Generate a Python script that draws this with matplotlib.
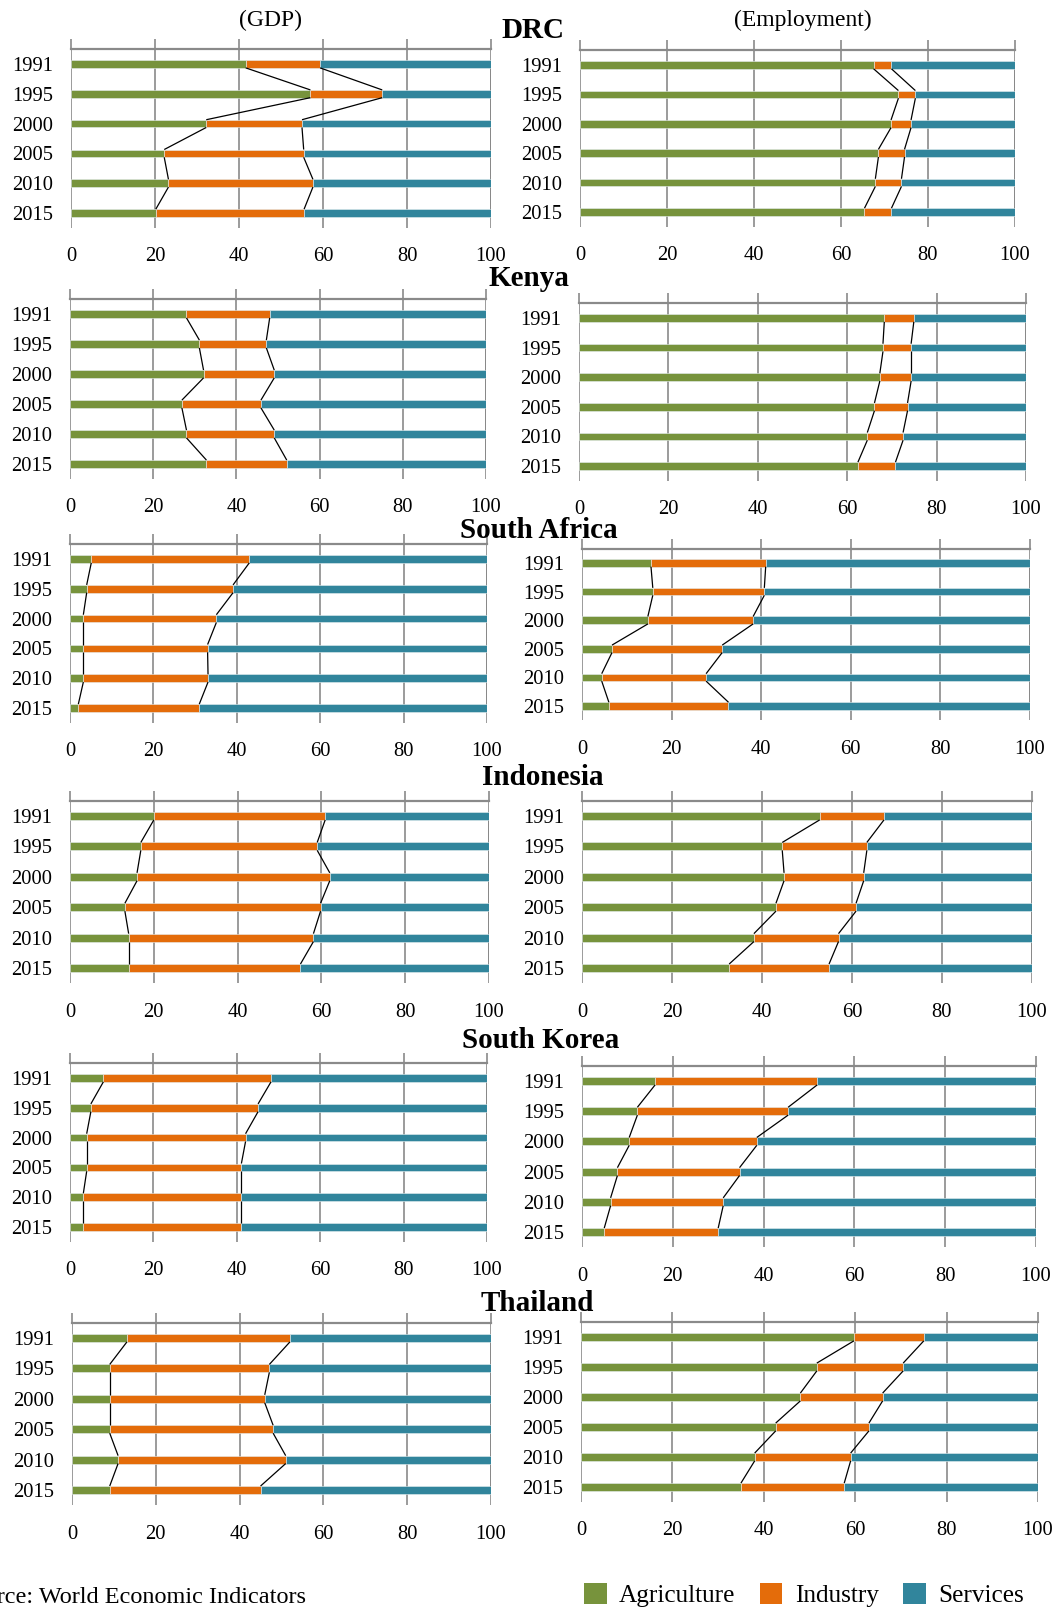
import matplotlib.pyplot as plt
from matplotlib.patches import Patch

plt.rcParams['font.family'] = ['Liberation Serif', 'DejaVu Serif']

# Sector shares (%) for each country, GDP and employment
years = ['1991', '1995', '2000', '2005', '2010', '2015']
sectors = ['Agriculture', 'Industry', 'Services']
sector_colors = ['#77933C', '#E46C0A', '#31859C']
countries = ['DRC', 'Kenya', 'South Africa', 'Indonesia', 'South Korea', 'Thailand']

drc_gdp_agri = [41.6, 57.0, 32.2, 22.2, 23.2, 20.2]
drc_gdp_ind = [17.7, 17.1, 22.8, 33.2, 34.4, 35.3]
drc_gdp_serv = [40.7, 25.9, 45.0, 44.6, 42.4, 44.5]
drc_emp_agri = [67.5, 73.2, 71.5, 68.6, 67.9, 65.4]
drc_emp_ind = [4.1, 3.9, 4.6, 6.0, 6.0, 6.2]
drc_emp_serv = [28.4, 22.9, 23.9, 25.4, 26.1, 28.4]

kenya_gdp_agri = [28.0, 31.1, 32.1, 26.9, 28.0, 32.8]
kenya_gdp_ind = [20.0, 16.1, 17.0, 19.0, 21.1, 19.3]
kenya_gdp_serv = [52.0, 52.8, 50.9, 54.1, 50.9, 47.9]
kenya_emp_agri = [68.3, 68.0, 67.3, 66.1, 64.5, 62.4]
kenya_emp_ind = [6.6, 6.3, 7.0, 7.4, 8.0, 8.4]
kenya_emp_serv = [25.1, 25.7, 25.7, 26.5, 27.5, 29.2]

sa_gdp_agri = [5.1, 4.0, 3.2, 3.2, 3.2, 2.0]
sa_gdp_ind = [37.9, 35.1, 31.9, 29.8, 29.9, 29.0]
sa_gdp_serv = [57.0, 60.9, 64.9, 67.0, 66.9, 69.0]
sa_emp_agri = [15.4, 15.8, 14.7, 6.7, 4.4, 6.0]
sa_emp_ind = [25.6, 24.9, 23.5, 24.6, 23.3, 26.7]
sa_emp_serv = [59.0, 59.3, 61.8, 68.7, 72.3, 67.3]

indo_gdp_agri = [20.0, 16.9, 16.0, 13.1, 14.0, 14.0]
indo_gdp_ind = [40.9, 42.1, 46.0, 46.7, 44.1, 41.0]
indo_gdp_serv = [39.1, 41.0, 38.0, 40.2, 41.9, 45.0]
indo_emp_agri = [52.8, 44.5, 44.9, 43.1, 38.2, 32.7]
indo_emp_ind = [14.3, 18.8, 17.7, 17.8, 18.8, 22.2]
indo_emp_serv = [32.9, 36.7, 37.4, 39.1, 43.0, 45.1]

korea_gdp_agri = [8.0, 5.0, 4.0, 4.0, 3.2, 3.2]
korea_gdp_ind = [40.2, 40.1, 38.1, 37.1, 37.9, 37.9]
korea_gdp_serv = [51.8, 54.9, 57.9, 58.9, 58.9, 58.9]
korea_emp_agri = [16.1, 12.2, 10.4, 7.8, 6.3, 4.9]
korea_emp_ind = [35.7, 33.2, 28.1, 26.9, 24.8, 25.1]
korea_emp_serv = [48.2, 54.6, 61.5, 65.3, 68.9, 70.0]

thai_gdp_agri = [13.1, 9.0, 9.0, 9.0, 11.0, 9.0]
thai_gdp_ind = [38.9, 38.1, 37.0, 39.0, 40.0, 36.0]
thai_gdp_serv = [48.0, 52.9, 54.0, 52.0, 49.0, 55.0]
thai_emp_agri = [59.7, 51.6, 48.0, 42.6, 38.0, 35.0]
thai_emp_ind = [15.3, 18.9, 18.0, 20.4, 21.0, 22.6]
thai_emp_serv = [25.0, 29.5, 34.0, 37.0, 41.0, 42.4]

gdp_data = [
    (drc_gdp_agri, drc_gdp_ind, drc_gdp_serv),
    (kenya_gdp_agri, kenya_gdp_ind, kenya_gdp_serv),
    (sa_gdp_agri, sa_gdp_ind, sa_gdp_serv),
    (indo_gdp_agri, indo_gdp_ind, indo_gdp_serv),
    (korea_gdp_agri, korea_gdp_ind, korea_gdp_serv),
    (thai_gdp_agri, thai_gdp_ind, thai_gdp_serv),
]
emp_data = [
    (drc_emp_agri, drc_emp_ind, drc_emp_serv),
    (kenya_emp_agri, kenya_emp_ind, kenya_emp_serv),
    (sa_emp_agri, sa_emp_ind, sa_emp_serv),
    (indo_emp_agri, indo_emp_ind, indo_emp_serv),
    (korea_emp_agri, korea_emp_ind, korea_emp_serv),
    (thai_emp_agri, thai_emp_ind, thai_emp_serv),
]

W, H = 1061, 1610
GRID = '#8a8a8a'
BAR_H = 0.26

# pixel layout: (x at 0, x at 100, y of first bar, y of last bar)
left_boxes = [(71, 491, 64, 213), (70, 486, 314, 464), (70, 487, 559, 708),
              (70, 489, 816, 968), (70, 487, 1078, 1227), (72, 491, 1338, 1490)]
right_boxes = [(580, 1015, 65, 212), (579, 1026, 318, 466), (582, 1030, 563, 706),
               (582, 1032, 816, 968), (582, 1036, 1081, 1232), (581, 1038, 1337, 1487)]
title_pos = [(533, 30), (529, 278), (539, 531), (543, 777), (541, 1041), (537, 1303)]


def make_axes(fig, box):
    x0, x1, yf, yl = box
    step = (yl - yf) / 5.0
    top = yf - step / 2
    bottom = yl + step / 2
    return fig.add_axes([x0 / W, 1 - bottom / H, (x1 - x0) / W, (bottom - top) / H])


def draw_panel(ax, agri, ind, serv):
    pos = list(range(len(years)))
    left = [0.0] * len(years)
    for vals, color in zip((agri, ind, serv), sector_colors):
        ax.barh(pos, vals, left=left, height=BAR_H, color=color,
                edgecolor='#e6eef0', linewidth=0.4, zorder=2)
        left = [l + v for l, v in zip(left, vals)]

    # series lines joining the segment boundaries of neighbouring bars
    cum1 = list(agri)
    cum2 = [a + b for a, b in zip(agri, ind)]
    cum3 = [a + b + c for a, b, c in zip(agri, ind, serv)]
    for bound in (cum1, cum2, cum3):
        for i in range(len(years) - 1):
            ax.plot([bound[i], bound[i + 1]], [i + BAR_H / 2, i + 1 - BAR_H / 2],
                    color='black', lw=0.9, zorder=3, solid_capstyle='butt')

    ax.set_xlim(0, 100)
    ax.set_ylim(5.5, -0.5)
    ax.set_xticks([0, 20, 40, 60, 80, 100])
    ax.set_yticks(pos)
    ax.set_yticklabels(years)
    ax.set_axisbelow(True)
    ax.grid(axis='x', color=GRID, lw=1.2)
    for side in ('left', 'right', 'bottom'):
        ax.spines[side].set_visible(False)
    ax.spines['top'].set_color(GRID)
    ax.spines['top'].set_linewidth(1.6)
    ax.tick_params(axis='x', top=True, bottom=False, labeltop=False, labelbottom=True,
                   direction='out', length=7, width=1.2, color=GRID, pad=7,
                   labelsize=14.8)
    ax.tick_params(axis='y', length=0, pad=13, labelsize=14.8)


fig = plt.figure(figsize=(W / 100, H / 100), dpi=100)

for k in range(len(countries)):
    axl = make_axes(fig, left_boxes[k])
    draw_panel(axl, *gdp_data[k])
    axr = make_axes(fig, right_boxes[k])
    draw_panel(axr, *emp_data[k])
    tx, ty = title_pos[k]
    fig.text(tx / W, 1 - ty / H, countries[k], ha='center', va='center',
             fontsize=21, fontweight='bold')

fig.text(270 / W, 1 - 20 / H, '(GDP)', ha='center', va='center', fontsize=17)
fig.text(803 / W, 1 - 20 / H, '(Employment)', ha='center', va='center', fontsize=17)

handles = [Patch(facecolor=c, edgecolor='none') for c in sector_colors]
fig.legend(handles, sectors, loc='center', bbox_to_anchor=(804 / W, 1 - 1595 / H),
           ncol=3, frameon=False, fontsize=18.2, handlelength=0.9, handleheight=0.9,
           handletextpad=0.5, columnspacing=0.95, borderpad=0)
fig.text(306 / W, 1 - 1597 / H, 'Source: World Economic Indicators', ha='right',
         va='center', fontsize=17.5)

fig.savefig('out.png', dpi=100)
